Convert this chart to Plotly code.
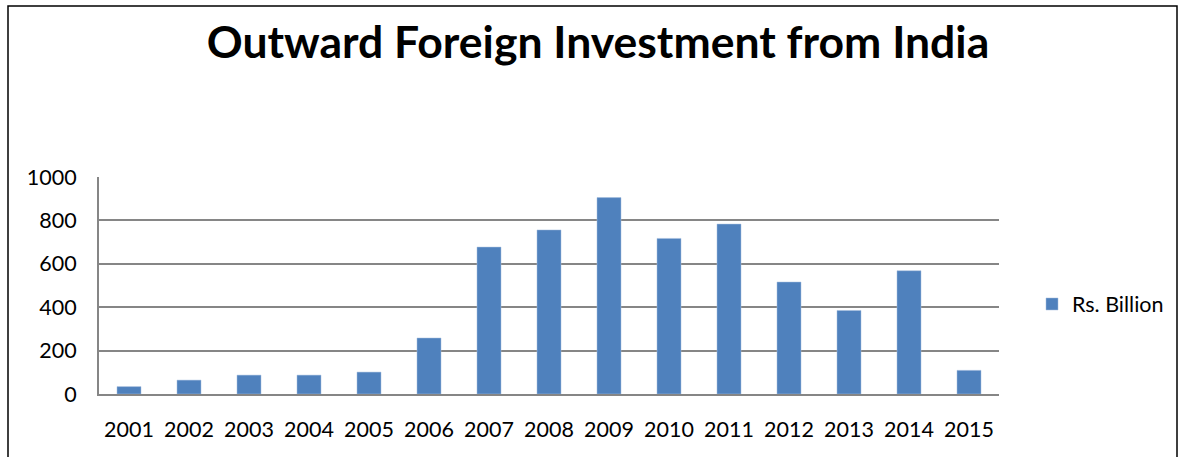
import plotly.graph_objects as go

years = ["2001", "2002", "2003", "2004", "2005", "2006", "2007", "2008",
         "2009", "2010", "2011", "2012", "2013", "2014", "2015"]
values = [34, 64, 87, 87, 101, 258, 677, 756, 905, 717, 783, 516, 385, 568, 109]
series_name = "Rs. Billion"
title_text = "Outward Foreign Investment from India"

W, H = 1185, 457
L, R, T, B = 99, 186, 177, 63
PW, PH = W - L - R, H - T - B

fig = go.Figure()
fig.add_trace(go.Bar(
    x=years, y=values, name=series_name,
    marker=dict(color="#4F81BD", line=dict(color="#A7BFDE", width=0.5)),
    showlegend=True,
))

fig.update_layout(
    width=W, height=H,
    margin=dict(l=L, r=R, t=T, b=B, pad=0),
    paper_bgcolor="white", plot_bgcolor="white",
    font=dict(family="Lato, Carlito, Calibri, sans-serif", color="black", size=21),
    title=dict(text="<b>" + title_text + "</b>", x=598 / W, xanchor="center",
               y=1 - 42 / H, yanchor="middle",
               font=dict(size=44.5, family="Lato, sans-serif", color="black")),
    bargap=0.6,
    showlegend=True,
    legend=dict(x=(1032 - L) / PW, y=(394 - 304) / PH,
                xanchor="left", yanchor="middle",
                font=dict(size=21.5), bgcolor="rgba(0,0,0,0)",
                itemwidth=30),
    xaxis=dict(showgrid=False, showline=True, linecolor="#868686", linewidth=2,
               ticks="", tickfont=dict(size=21.5), ticklabelstandoff=15),
    yaxis=dict(range=[0, 1000], tickvals=[0, 200, 400, 600, 800, 1000],
               showgrid=True, gridcolor="#868686", gridwidth=2,
               showline=True, linecolor="#868686", linewidth=2,
               zeroline=False, ticks="", tickfont=dict(size=21.5),
               ticklabelstandoff=16),
    shapes=[dict(type="rect", xref="paper", yref="paper",
                 x0=(8 - L) / PW, x1=(1177 - L) / PW,
                 y0=-(470 - (H - B)) / PH,
                 y1=((H - B) - 6) / PH,
                 line=dict(color="black", width=1.5), layer="below")],
)

fig.write_html("out.html")
